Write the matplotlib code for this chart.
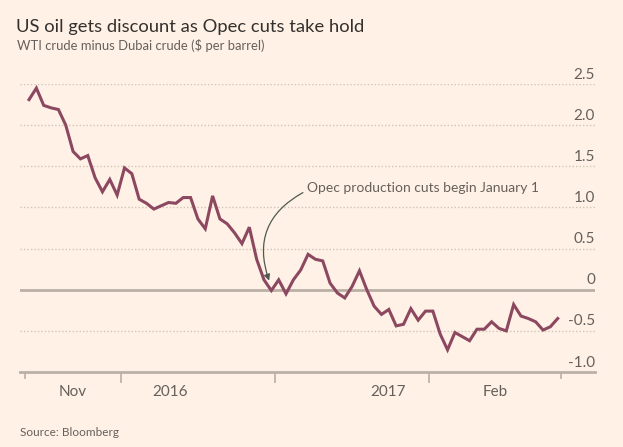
import matplotlib.pyplot as plt
import matplotlib.transforms as mtransforms

# WTI minus Dubai spread, one value per point
spread = [2.31, 2.45, 2.24, 2.21, 2.19, 2.00, 1.68, 1.59, 1.63, 1.36,
          1.19, 1.34, 1.15, 1.48, 1.41, 1.10, 1.05, 0.98, 1.02, 1.06,
          1.05, 1.12, 1.12, 0.86, 0.74, 1.14, 0.86, 0.80, 0.69, 0.56,
          0.76, 0.37, 0.12, -0.01, 0.12, -0.05, 0.12, 0.24, 0.43, 0.37,
          0.35, 0.08, -0.04, -0.10, 0.04, 0.23, 0.00, -0.20, -0.30, -0.24,
          -0.44, -0.42, -0.23, -0.37, -0.26, -0.26, -0.54, -0.73, -0.52, -0.57,
          -0.62, -0.48, -0.48, -0.39, -0.47, -0.50, -0.18, -0.32, -0.35, -0.39,
          -0.49, -0.45, -0.35]
x = list(range(len(spread)))

y_ticks = [2.5, 2.0, 1.5, 1.0, 0.5, 0, -0.5, -1.0]
y_labels = ["2.5", "2.0", "1.5", "1.0", "0.5", "0", "-0.5", "-1.0"]

# x axis: tick marks and label positions (in point index units)
major_ticks = [12.53, 33.50, 54.47]
end_ticks = [-0.55, 72.45]
x_label_pos = [5.99, 19.2, 48.9, 63.5]
x_labels = ["Nov", "2016", "2017", "Feb"]

bg = "#FFF1E5"
text_col = "#66605C"
grid_col = "#CFC4B8"
axis_col = "#BBB0A6"
line_col = "#8C4860"

plt.rcParams["font.family"] = ["Lato", "DejaVu Sans"]

fig = plt.figure(figsize=(6.23, 4.47), dpi=100, facecolor=bg)
ax = fig.add_axes([20 / 623, 1 - 372 / 447, 575 / 623, 288 / 447])
ax.set_facecolor(bg)

ax.set_xlim(-1.23, 77.08)
ax.set_ylim(-1.0, 2.5)

for v in y_ticks:
    if v == 0:
        ax.axhline(0, color=axis_col, lw=2, zorder=1)
    elif v > -1.0:
        ax.axhline(v, color=grid_col, lw=1, ls=(0, (1, 1.5)), zorder=1)

ax.plot(x, spread, color=line_col, lw=2.2, solid_joinstyle="miter", zorder=3)

for s in ["top", "right", "left"]:
    ax.spines[s].set_visible(False)
ax.spines["bottom"].set_color(axis_col)
ax.spines["bottom"].set_linewidth(2)

ax.set_yticks([])
ax.set_xticks(major_ticks)
ax.set_xticks(end_ticks, minor=True)
ax.set_xticklabels([])
ax.tick_params(axis="x", which="major", length=8, width=1.2, color=axis_col, direction="out")
ax.tick_params(axis="x", which="minor", length=5, width=1.2, color=axis_col, direction="out")

# y labels sit just above each gridline, at the right
ytrans = mtransforms.blended_transform_factory(ax.transAxes, ax.transData)
for v, lab in zip(y_ticks, y_labels):
    ax.text(1.0, v + 0.03, lab, transform=ytrans, ha="right", va="bottom",
            fontsize=11, color=text_col)

xtrans = ax.get_xaxis_transform()
for p, lab in zip(x_label_pos, x_labels):
    ax.text(p, -0.07, lab, transform=xtrans, ha="center", va="center",
            fontsize=11, color=text_col)

# annotation: curved arrow from just left of the text down to the line
ax.annotate("", xy=(32.7, 0.11), xytext=(37.3, 1.18),
            arrowprops=dict(arrowstyle="-|>", color="#4E5A50", lw=0.9,
                            mutation_scale=9, shrinkA=0, shrinkB=0,
                            connectionstyle="arc3,rad=0.42"))
ax.text(37.9, 1.235, "Opec production cuts begin January 1",
        ha="left", va="center", fontsize=10, color=text_col)

fig.text(16 / 623, 1 - 27 / 447, "US oil gets discount as Opec cuts take hold",
         ha="left", va="center", fontsize=13.2, color="#33302E")
fig.text(17 / 623, 1 - 46 / 447, "WTI crude minus Dubai crude ($ per barrel)",
         ha="left", va="center", fontsize=9.4, color=text_col)
fig.text(20 / 623, 1 - 433 / 447, "Source: Bloomberg",
         ha="left", va="center", fontsize=8.5, color=text_col)

fig.savefig("out.png", dpi=100, facecolor=bg)
